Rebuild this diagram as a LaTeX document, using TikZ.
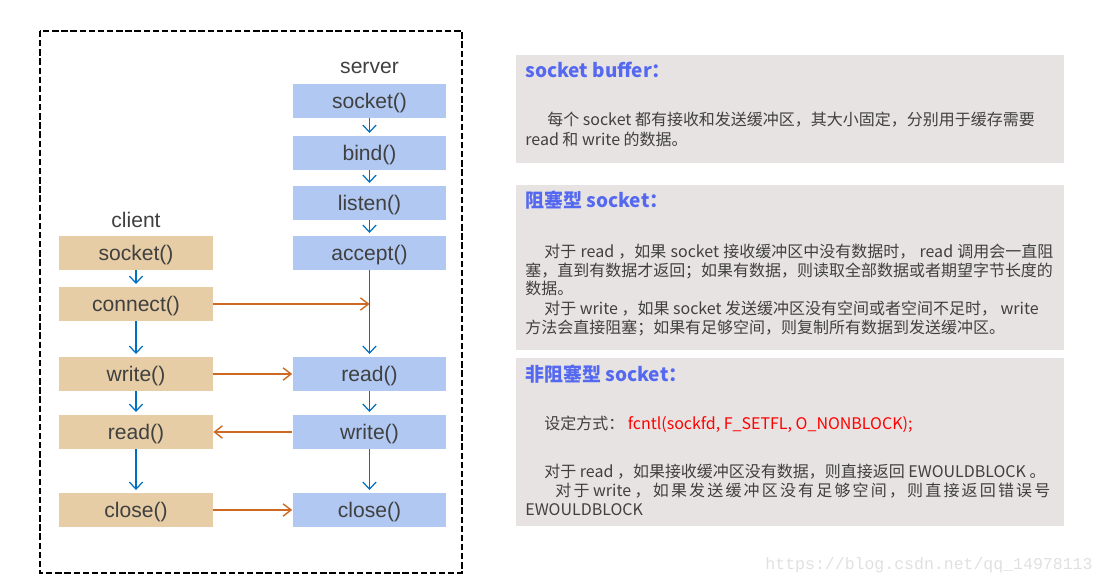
\documentclass[tikz,border=0pt]{standalone}
\usepackage{fontspec}
\setmainfont{Liberation Sans}
\setmonofont{Liberation Mono}
\newfontfamily\cjk{Noto Sans CJK SC}
\usetikzlibrary{arrows.meta}
\definecolor{clientfill}{RGB}{230,205,165}
\definecolor{serverfill}{RGB}{176,200,242}
\definecolor{flowblue}{RGB}{0,112,192}
\definecolor{msgorange}{RGB}{205,105,35}
\definecolor{panelgray}{RGB}{231,227,226}
\definecolor{titleblue}{RGB}{85,105,240}
\definecolor{bodytext}{RGB}{64,64,64}
\newlength\pxu \setlength\pxu{0.02cm}
\newcommand\fillline[2]{\makebox[#1\pxu][s]{#2}}
\newcommand\gp{\hspace{0pt plus 1fil}}

\begin{document}
\begin{tikzpicture}[x=0.02cm, y=-0.02cm,
  fn/.style={minimum width=3.08cm, minimum height=0.68cm, inner sep=0pt,
             text depth=0pt, text=bodytext, font=\fontsize{12}{14}\selectfont},
  cfn/.style={fn, fill=clientfill},
  sfn/.style={fn, fill=serverfill},
  side/.style={text=bodytext, font=\fontsize{12}{14}\selectfont},
  flow/.style={flowblue, line width=0.7pt,
               -{Straight Barb[length=4pt,width=7.5pt]}, shorten >=1.5pt},
  msg/.style={msgorange, line width=0.8pt,
              -{Straight Barb[length=4.5pt,width=7pt]}},
  ptitle/.style={anchor=base west, inner sep=0pt, text=titleblue,
                 font=\cjk\bfseries\fontsize{10.8}{12}\selectfont},
  pline/.style={anchor=base west, inner sep=0pt, text=bodytext,
                font=\cjk\fontsize{9.1}{11}\selectfont}]
  \useasboundingbox (0,0) rectangle (1105,584);

  % dashed frame round the call sequence
  \draw[line width=1.5pt, dash pattern=on 3.6pt off 1.6pt] (40,31) rectangle (462,573);

  % server side
  \node[side] (server) at (369.5,68) {server};
  \node[sfn] (s-socket) at (369.5,101) {socket()};
  \node[sfn] (s-bind)   at (369.5,153) {bind()};
  \node[sfn] (s-listen) at (369.5,203) {listen()};
  \node[sfn] (s-accept) at (369.5,253) {accept()};
  \node[sfn] (s-read)   at (369.5,374) {read()};
  \node[sfn] (s-write)  at (369.5,432) {write()};
  \node[sfn] (s-close)  at (369.5,510) {close()};

  % client side
  \node[side] (client) at (136,220) {client};
  \node[cfn] (c-socket)  at (136,253) {socket()};
  \node[cfn] (c-connect) at (136,304) {connect()};
  \node[cfn] (c-write)   at (136,374) {write()};
  \node[cfn] (c-read)    at (136,432) {read()};
  \node[cfn] (c-close)   at (136,510) {close()};

  % calls in order
  \draw[flow] (s-socket) -- (s-bind);
  \draw[flow] (s-bind) -- (s-listen);
  \draw[flow] (s-listen) -- (s-accept);
  \draw[flow] (s-accept) -- (s-read);
  \draw[flow] (s-read) -- (s-write);
  \draw[flow] (s-write) -- (s-close);
  \draw[flow] (c-socket) -- (c-connect);
  \draw[flow] (c-connect) -- (c-write);
  \draw[flow] (c-write) -- (c-read);
  \draw[flow] (c-read) -- (c-close);

  % messages between the two sides
  \coordinate (handshake) at (s-accept.south |- c-connect);
  \draw[msg] (c-connect) -- (handshake);
  \draw[msg] (c-write) -- (s-read);
  \draw[msg] (s-write) -- (c-read);
  \draw[msg] (c-close) -- (s-close);

  % notes on the right
  \fill[panelgray] (516,55) rectangle (1064,163);
  \fill[panelgray] (516,185) rectangle (1064,350);
  \fill[panelgray] (516,358) rectangle (1064,526);

  \node[ptitle] (t1) at (525,78) {socket buffer：};
  \node[pline] (t1a) at (547,126) {每个 socket 都有接收和发送缓冲区，其大小固定，分别用于缓存需要};
  \node[pline] (t1b) at (525,146) {read 和 write 的数据。};

  \node[ptitle] (t2) at (525,208) {阻塞型 socket：};
  \node[pline] (t2a) at (544,257) {\fillline{509}{对于 read ，如果 socket 接收缓冲区中没有数据时， read 调用会一直阻}};
  \node[pline] (t2b) at (525,276) {塞，直到有数据才返回；如果有数据，则读取全部数据或者期望字节长度的};
  \node[pline] (t2c) at (525,295) {数据。};
  \node[pline] (t2d) at (544,314) {对于 write ，如果 socket 发送缓冲区没有空间或者空间不足时， write};
  \node[pline] (t2e) at (525,333) {方法会直接阻塞；如果有足够空间，则复制所有数据到发送缓冲区。};

  \node[ptitle] (t3) at (525,381) {非阻塞型 socket：};
  \node[pline] (t3a) at (544,429) {设定方式： \textcolor{red}{fcntl(sockfd, F\_SETFL, O\_NONBLOCK);}};
  \node[pline] (t3b) at (544,477) {对于 read ，如果接收缓冲区没有数据，则直接返回 EWOULDBLOCK 。};
  \node[pline] (t3c) at (555,496) {\makebox[495\pxu][s]{对\gp 于 write ，\gp 如\gp 果\gp 发\gp 送\gp 缓\gp 冲\gp 区\gp 没\gp 有\gp 足\gp 够\gp 空\gp 间\gp ，\gp 则\gp 直\gp 接\gp 返\gp 回\gp 错\gp 误\gp 号}};
  \node[pline] (t3d) at (525,515) {EWOULDBLOCK};

  % watermark
  \node[text=black!12, font=\ttfamily\fontsize{9.4}{11}\selectfont] (mark) at (929,565) {https://blog.csdn.net/qq\_14978113};
\end{tikzpicture}
\end{document}
